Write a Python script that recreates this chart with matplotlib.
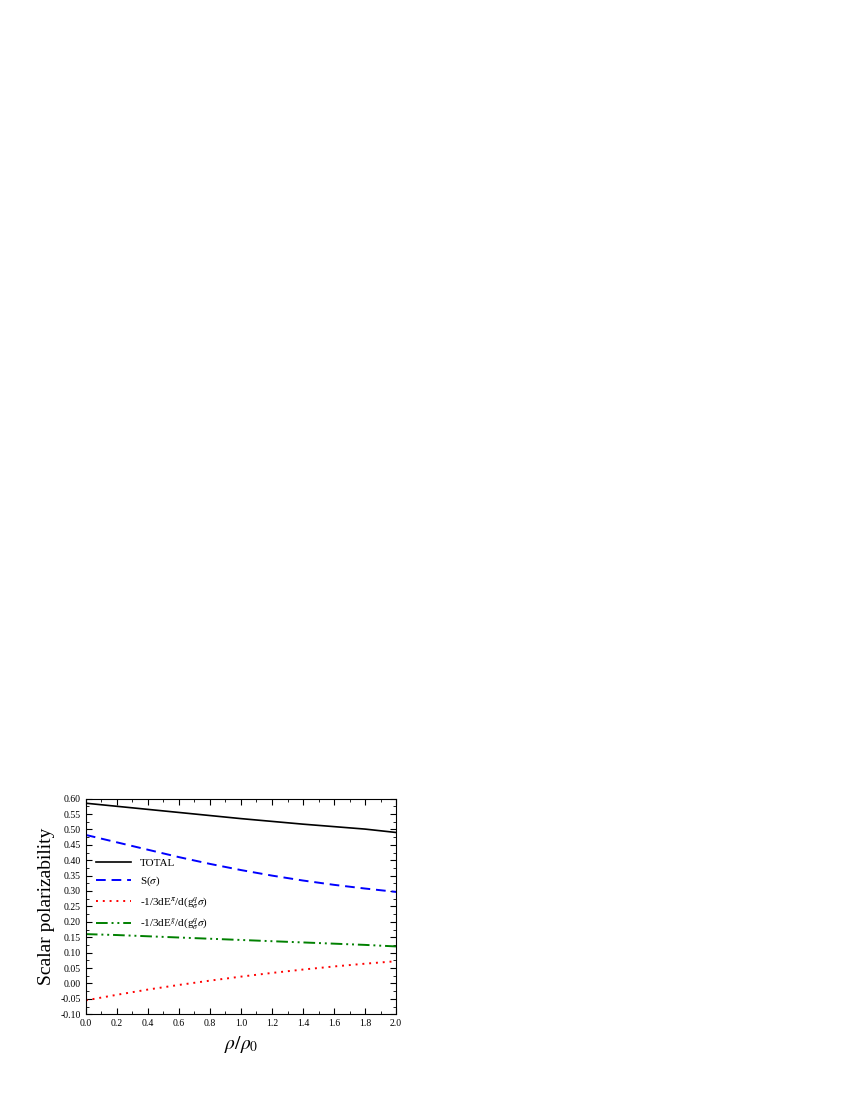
import matplotlib
matplotlib.use("Agg")
import matplotlib.pyplot as plt
from matplotlib.ticker import MultipleLocator

plt.rcParams['font.family'] = ['Liberation Serif', 'DejaVu Serif']
plt.rcParams['mathtext.fontset'] = 'stix'

rho = [0.0, 0.2, 0.4, 0.6, 0.8, 1.0, 1.2, 1.4, 1.6, 1.8, 2.0]
total = [0.585, 0.575, 0.565, 0.555, 0.545, 0.535, 0.526, 0.517, 0.509, 0.501, 0.490]
s_sigma = [0.482, 0.458, 0.434, 0.410, 0.388, 0.368, 0.350, 0.334, 0.320, 0.308, 0.297]
pi_term = [-0.055, -0.037, -0.020, -0.005, 0.009, 0.022, 0.034, 0.045, 0.055, 0.064, 0.072]
g_term = [0.160, 0.157, 0.153, 0.149, 0.145, 0.141, 0.137, 0.133, 0.129, 0.125, 0.120]

fig = plt.figure(figsize=(8.5, 11), dpi=100)
ax = fig.add_axes([0.101, 0.078, 0.365, 0.196])
ax.plot(rho, total, color='black', lw=1.2, label='TOTAL')
ax.plot(rho, s_sigma, color='blue', lw=1.4, ls=(0, (5, 3)), label=r'S($\sigma$)')
ax.plot(rho, pi_term, color='red', lw=1.4, ls=(0, (1, 2.5)), label=r'-1/3dE$^{\pi}$/d(g$^{q}_{\sigma}$$\sigma$)')
ax.plot(rho, g_term, color='green', lw=1.4, ls=(0, (6, 2, 1, 2, 1, 2)), label=r'-1/3dE$^{g}$/d(g$^{q}_{\sigma}$$\sigma$)')
ax.set_xlim(0, 2.0)
ax.set_ylim(-0.10, 0.60)
ax.xaxis.set_major_locator(MultipleLocator(0.2))
ax.xaxis.set_minor_locator(MultipleLocator(0.1))
ax.yaxis.set_major_locator(MultipleLocator(0.05))
ax.yaxis.set_minor_locator(MultipleLocator(0.025))
ax.xaxis.set_major_formatter(plt.FuncFormatter(lambda v, p: f"{v:.1f}"))
ax.yaxis.set_major_formatter(plt.FuncFormatter(lambda v, p: f"{v:.2f}"))
ax.tick_params(which='both', direction='in', top=True, right=True, labelsize=7)
ax.tick_params(which='major', length=4)
ax.tick_params(which='minor', length=2)
ax.set_xlabel(r'$\rho/\rho_0$', fontsize=14)
ax.set_ylabel('Scalar polarizability', fontsize=14)
ax.legend(loc='upper left', bbox_to_anchor=(0.0, 0.77), frameon=False, fontsize=8, handlelength=3.2, labelspacing=0.6)
fig.savefig('out.png', dpi=100)
